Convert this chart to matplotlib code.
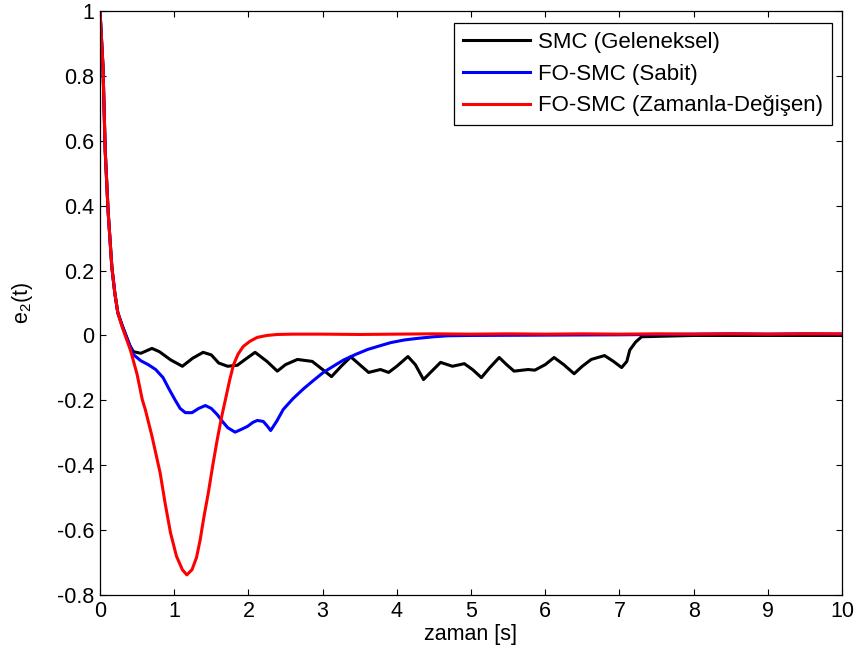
import numpy as np
import matplotlib
matplotlib.use("Agg")
import matplotlib.pyplot as plt
from matplotlib.ticker import FuncFormatter

plt.rcParams['font.family'] = ['Liberation Sans', 'DejaVu Sans']

# SMC (Geleneksel)
t_smc = [0, 0.04, 0.07, 0.11, 0.16, 0.2, 0.24, 0.3, 0.4, 0.45, 0.55, 0.7, 0.8, 0.95, 1.11,
         1.25, 1.39, 1.5, 1.6, 1.72, 1.85, 1.95, 2.09, 2.25, 2.39, 2.5, 2.66, 2.86, 3.0,
         3.12, 3.25, 3.38, 3.5, 3.62, 3.78, 3.89, 4.0, 4.15, 4.25, 4.36, 4.45, 4.59,
         4.75, 4.91, 5.02, 5.14, 5.25, 5.38, 5.48, 5.58, 5.77, 5.86, 6.0, 6.12, 6.25,
         6.39, 6.5, 6.62, 6.8, 6.92, 7.03, 7.1, 7.14, 7.22, 7.3, 7.47, 8.0, 10.0]
e_smc = [1.0, 0.83, 0.57, 0.38, 0.21, 0.13, 0.07, 0.03, -0.03, -0.05, -0.055, -0.04, -0.05,
         -0.075, -0.095, -0.07, -0.052, -0.06, -0.085, -0.095, -0.092, -0.075, -0.052,
         -0.08, -0.11, -0.09, -0.074, -0.08, -0.105, -0.127, -0.095, -0.066, -0.09,
         -0.114, -0.105, -0.114, -0.095, -0.065, -0.09, -0.136, -0.115, -0.083, -0.095,
         -0.087, -0.105, -0.13, -0.1, -0.068, -0.09, -0.11, -0.105, -0.107, -0.09,
         -0.068, -0.09, -0.118, -0.095, -0.074, -0.062, -0.08, -0.099, -0.08, -0.045,
         -0.02, -0.004, -0.003, 0.0, 0.0]

# FO-SMC (Sabit)
t_fo = [0, 0.04, 0.07, 0.11, 0.16, 0.2, 0.24, 0.3, 0.4, 0.45, 0.55, 0.65, 0.75, 0.85,
        0.93, 1.01, 1.08, 1.15, 1.24, 1.33, 1.42, 1.5, 1.58, 1.65, 1.72, 1.82, 1.9,
        1.99, 2.06, 2.12, 2.2, 2.25, 2.3, 2.38, 2.47, 2.6, 2.74, 2.87, 3.01, 3.15,
        3.28, 3.45, 3.61, 3.8, 3.92, 4.1, 4.28, 4.5, 4.69, 5.0, 6.0, 7.0, 7.5, 8.0,
        8.5, 9.0, 9.5, 10.0]
e_fo = [1.0, 0.83, 0.57, 0.38, 0.21, 0.13, 0.07, 0.03, -0.03, -0.059, -0.078, -0.09,
        -0.105, -0.13, -0.165, -0.198, -0.225, -0.238, -0.238, -0.225, -0.216, -0.225,
        -0.244, -0.265, -0.284, -0.298, -0.29, -0.28, -0.268, -0.262, -0.265, -0.278,
        -0.293, -0.265, -0.228, -0.195, -0.165, -0.14, -0.114, -0.094, -0.076, -0.058,
        -0.043, -0.03, -0.022, -0.014, -0.009, -0.004, -0.001, 0.0, 0.001, 0.002,
        0.003, 0.004, 0.005, 0.004, 0.005, 0.004]

# FO-SMC (Zamanla-Degisen)
t_tv = [0, 0.04, 0.07, 0.11, 0.16, 0.2, 0.24, 0.3, 0.41, 0.5, 0.57, 0.61, 0.7, 0.81,
        0.88, 0.95, 1.03, 1.11, 1.17, 1.24, 1.3, 1.35, 1.4, 1.46, 1.52, 1.58, 1.64,
        1.69, 1.75, 1.8, 1.86, 1.93, 2.02, 2.12, 2.25, 2.39, 2.6, 3.0, 3.5, 4.0, 4.5,
        5.0, 5.5, 6.0, 6.5, 7.0, 7.5, 8.0, 8.5, 9.0, 9.5, 10.0]
e_tv = [1.0, 0.83, 0.57, 0.38, 0.21, 0.13, 0.07, 0.025, -0.045, -0.12, -0.198, -0.228,
        -0.31, -0.423, -0.52, -0.608, -0.68, -0.722, -0.738, -0.722, -0.685, -0.63,
        -0.56, -0.485, -0.4, -0.321, -0.25, -0.198, -0.135, -0.09, -0.058, -0.034,
        -0.018, -0.006, 0.0, 0.003, 0.004, 0.004, 0.003, 0.004, 0.005, 0.004, 0.005,
        0.004, 0.005, 0.004, 0.005, 0.004, 0.005, 0.004, 0.005, 0.005]

labels = ['SMC (Geleneksel)', 'FO-SMC (Sabit)', 'FO-SMC (Zamanla-Değişen)']
colors = ['#000000', '#0000ff', '#ff0000']

fig = plt.figure(figsize=(8.59, 6.64), dpi=100)
ax = fig.add_axes([100 / 859, 69 / 664, 742 / 859, 584 / 664])

ax.plot(t_smc, e_smc, color=colors[0], lw=2.2, label=labels[0])
ax.plot(t_fo, e_fo, color=colors[1], lw=2.2, label=labels[1])
ax.plot(t_tv, e_tv, color=colors[2], lw=2.2, label=labels[2])

ax.set_xlim(0, 10)
ax.set_ylim(-0.8, 1)
ax.set_xticks(np.arange(0, 11, 1))
ax.set_yticks(np.arange(-0.8, 1.01, 0.2))
ax.yaxis.set_major_formatter(FuncFormatter(lambda v, p: '%g' % (round(v, 1) + 0.0)))
ax.tick_params(direction='in', top=True, right=True, length=4, width=0.8,
               labelsize=15.5, pad=4)
for s in ax.spines.values():
    s.set_linewidth(0.9)

ax.set_xlabel('zaman [s]', fontsize=15.5, labelpad=2)
ax.set_ylabel(r'$\mathregular{e_2(t)}$', fontsize=15.5)
ax.yaxis.set_label_coords(-0.088, 0.5)

leg = ax.legend(loc='upper right', bbox_to_anchor=(0.987, 0.979), fontsize=16,
                fancybox=False, edgecolor='black', framealpha=1, handlelength=3,
                handletextpad=0.4, labelspacing=0.48, borderpad=0.4,
                borderaxespad=0)
leg.get_frame().set_linewidth(0.9)

fig.savefig('out.png', dpi=100)
